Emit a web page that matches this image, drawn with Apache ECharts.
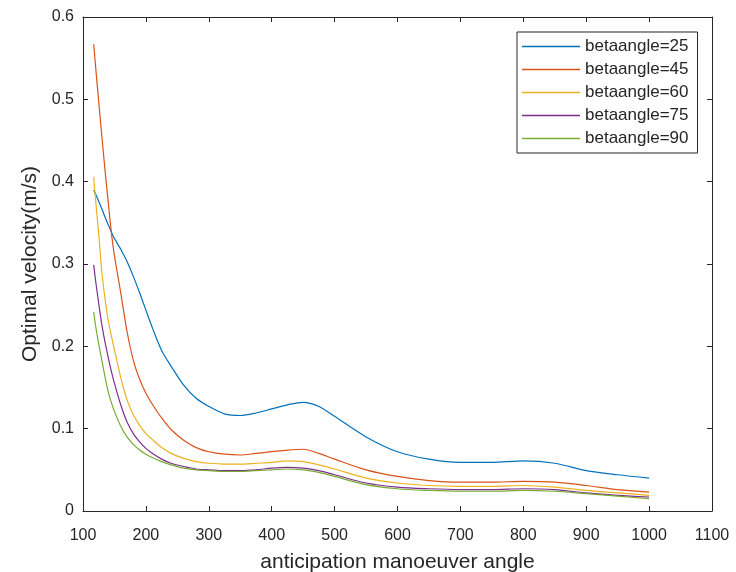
<!DOCTYPE html>
<html>
<head>
<meta charset="utf-8">
<script src="https://cdn.jsdelivr.net/npm/echarts@6/dist/echarts.min.js"></script>
<style>
  html, body { margin: 0; padding: 0; background: #fff; }
  #main { width: 736px; height: 572px; }
</style>
</head>
<body>
<div id="main"></div>
<script>
// sample angles shared by all curves
var angles = [117, 120, 125, 130, 135, 140, 145, 150, 160, 170, 180, 190, 200, 210, 225, 240, 260, 280, 300,
  325, 350, 375, 400, 425, 450, 475, 500, 550, 600, 650, 700, 750, 800, 850, 900, 950, 1000];

var beta25 = [0.390, 0.385, 0.376, 0.367, 0.357, 0.348, 0.339, 0.331, 0.318, 0.303, 0.285, 0.265, 0.244, 0.223, 0.195, 0.176, 0.153, 0.137, 0.127,
  0.118, 0.116, 0.119, 0.124, 0.129, 0.132, 0.127, 0.115, 0.090, 0.072, 0.063, 0.059, 0.059, 0.061, 0.058, 0.049, 0.044, 0.040];
var beta45 = [0.567, 0.540, 0.497, 0.455, 0.414, 0.376, 0.339, 0.310, 0.265, 0.218, 0.183, 0.160, 0.143, 0.130, 0.113, 0.099, 0.086, 0.077, 0.072,
  0.069, 0.068, 0.070, 0.072, 0.074, 0.075, 0.070, 0.063, 0.050, 0.042, 0.037, 0.035, 0.035, 0.036, 0.035, 0.031, 0.026, 0.023];
var beta60 = [0.406, 0.378, 0.336, 0.290, 0.258, 0.232, 0.213, 0.196, 0.162, 0.135, 0.117, 0.104, 0.094, 0.087, 0.077, 0.070, 0.064, 0.060, 0.058,
  0.057, 0.057, 0.058, 0.059, 0.061, 0.060, 0.056, 0.051, 0.040, 0.034, 0.031, 0.030, 0.030, 0.031, 0.029, 0.025, 0.022, 0.019];
var beta75 = [0.299, 0.280, 0.252, 0.226, 0.205, 0.187, 0.170, 0.155, 0.129, 0.108, 0.094, 0.084, 0.076, 0.070, 0.063, 0.058, 0.054, 0.051, 0.050,
  0.049, 0.049, 0.050, 0.052, 0.053, 0.052, 0.049, 0.044, 0.034, 0.029, 0.027, 0.026, 0.026, 0.027, 0.026, 0.022, 0.019, 0.017];
var beta90 = [0.242, 0.225, 0.203, 0.183, 0.163, 0.145, 0.132, 0.121, 0.103, 0.090, 0.081, 0.074, 0.069, 0.065, 0.060, 0.056, 0.052, 0.050, 0.049,
  0.048, 0.048, 0.049, 0.050, 0.051, 0.050, 0.047, 0.042, 0.032, 0.027, 0.025, 0.024, 0.024, 0.025, 0.024, 0.021, 0.018, 0.015];

var names = ["betaangle=25", "betaangle=45", "betaangle=60", "betaangle=75", "betaangle=90"];
var curves = [beta25, beta45, beta60, beta75, beta90];
var colors = ["#0072BD", "#D95319", "#EDB120", "#7E2F8E", "#77AC30"];

var chartDom = document.getElementById("main");
var myChart = echarts.init(chartDom);

var ink = "#262626";
var font = "Liberation Sans, Arial, Helvetica, sans-serif";

function pairs(ys) {
  return angles.map(function (a, i) {
    return [a, ys[i]];
  });
}

var boxAxis = {
  axisLine: { show: true, onZero: false, lineStyle: { color: ink, width: 1 } },
  axisTick: { show: true, inside: true, length: 5, lineStyle: { color: ink } },
  splitLine: { show: false },
};

var option = {
  backgroundColor: "#fff",
  animation: false,
  color: colors,
  textStyle: { fontFamily: font },
  grid: { left: 83, right: 24, top: 17, bottom: 61, outerBoundsMode: "none" },
  legend: {
    orient: "vertical",
    left: 517,
    top: 32,
    padding: [6, 9, 6, 5],
    icon: "rect",
    itemWidth: 58,
    itemHeight: 1.3,
    itemGap: 6,
    backgroundColor: "#fff",
    borderColor: ink,
    borderWidth: 1,
    borderRadius: 0,
    textStyle: { color: ink, fontSize: 17, lineHeight: 17, fontFamily: font },
    data: names,
  },
  xAxis: [
    Object.assign({}, boxAxis, {
      type: "value",
      min: 100,
      max: 1100,
      interval: 100,
      name: "anticipation manoeuver angle",
      nameLocation: "middle",
      nameGap: 41,
      nameTextStyle: { color: ink, fontSize: 21, fontFamily: font },
      axisLabel: { color: ink, fontSize: 16, margin: 17, fontFamily: font, formatter: function (v) { return String(v); } },
    }),
    Object.assign({}, boxAxis, {
      type: "value",
      position: "top",
      min: 100,
      max: 1100,
      interval: 100,
      axisLabel: { show: false },
    }),
  ],
  yAxis: [
    Object.assign({}, boxAxis, {
      type: "value",
      min: 0,
      max: 0.6,
      interval: 0.1,
      name: "Optimal velocity(m/s)",
      nameLocation: "middle",
      nameGap: 40,
      nameTextStyle: { color: ink, fontSize: 21, fontFamily: font },
      axisLabel: { color: ink, fontSize: 16, margin: 9, fontFamily: font },
    }),
    Object.assign({}, boxAxis, {
      type: "value",
      position: "right",
      min: 0,
      max: 0.6,
      interval: 0.1,
      axisLabel: { show: false },
    }),
  ],
  series: curves.map(function (ys, i) {
    return {
      name: names[i],
      type: "line",
      data: pairs(ys),
      smooth: 0.3,
      symbol: "none",
      lineStyle: { width: 1.2, color: colors[i] },
      itemStyle: { color: colors[i] },
    };
  }),
};

option && myChart.setOption(option);
</script>
</body>
</html>
